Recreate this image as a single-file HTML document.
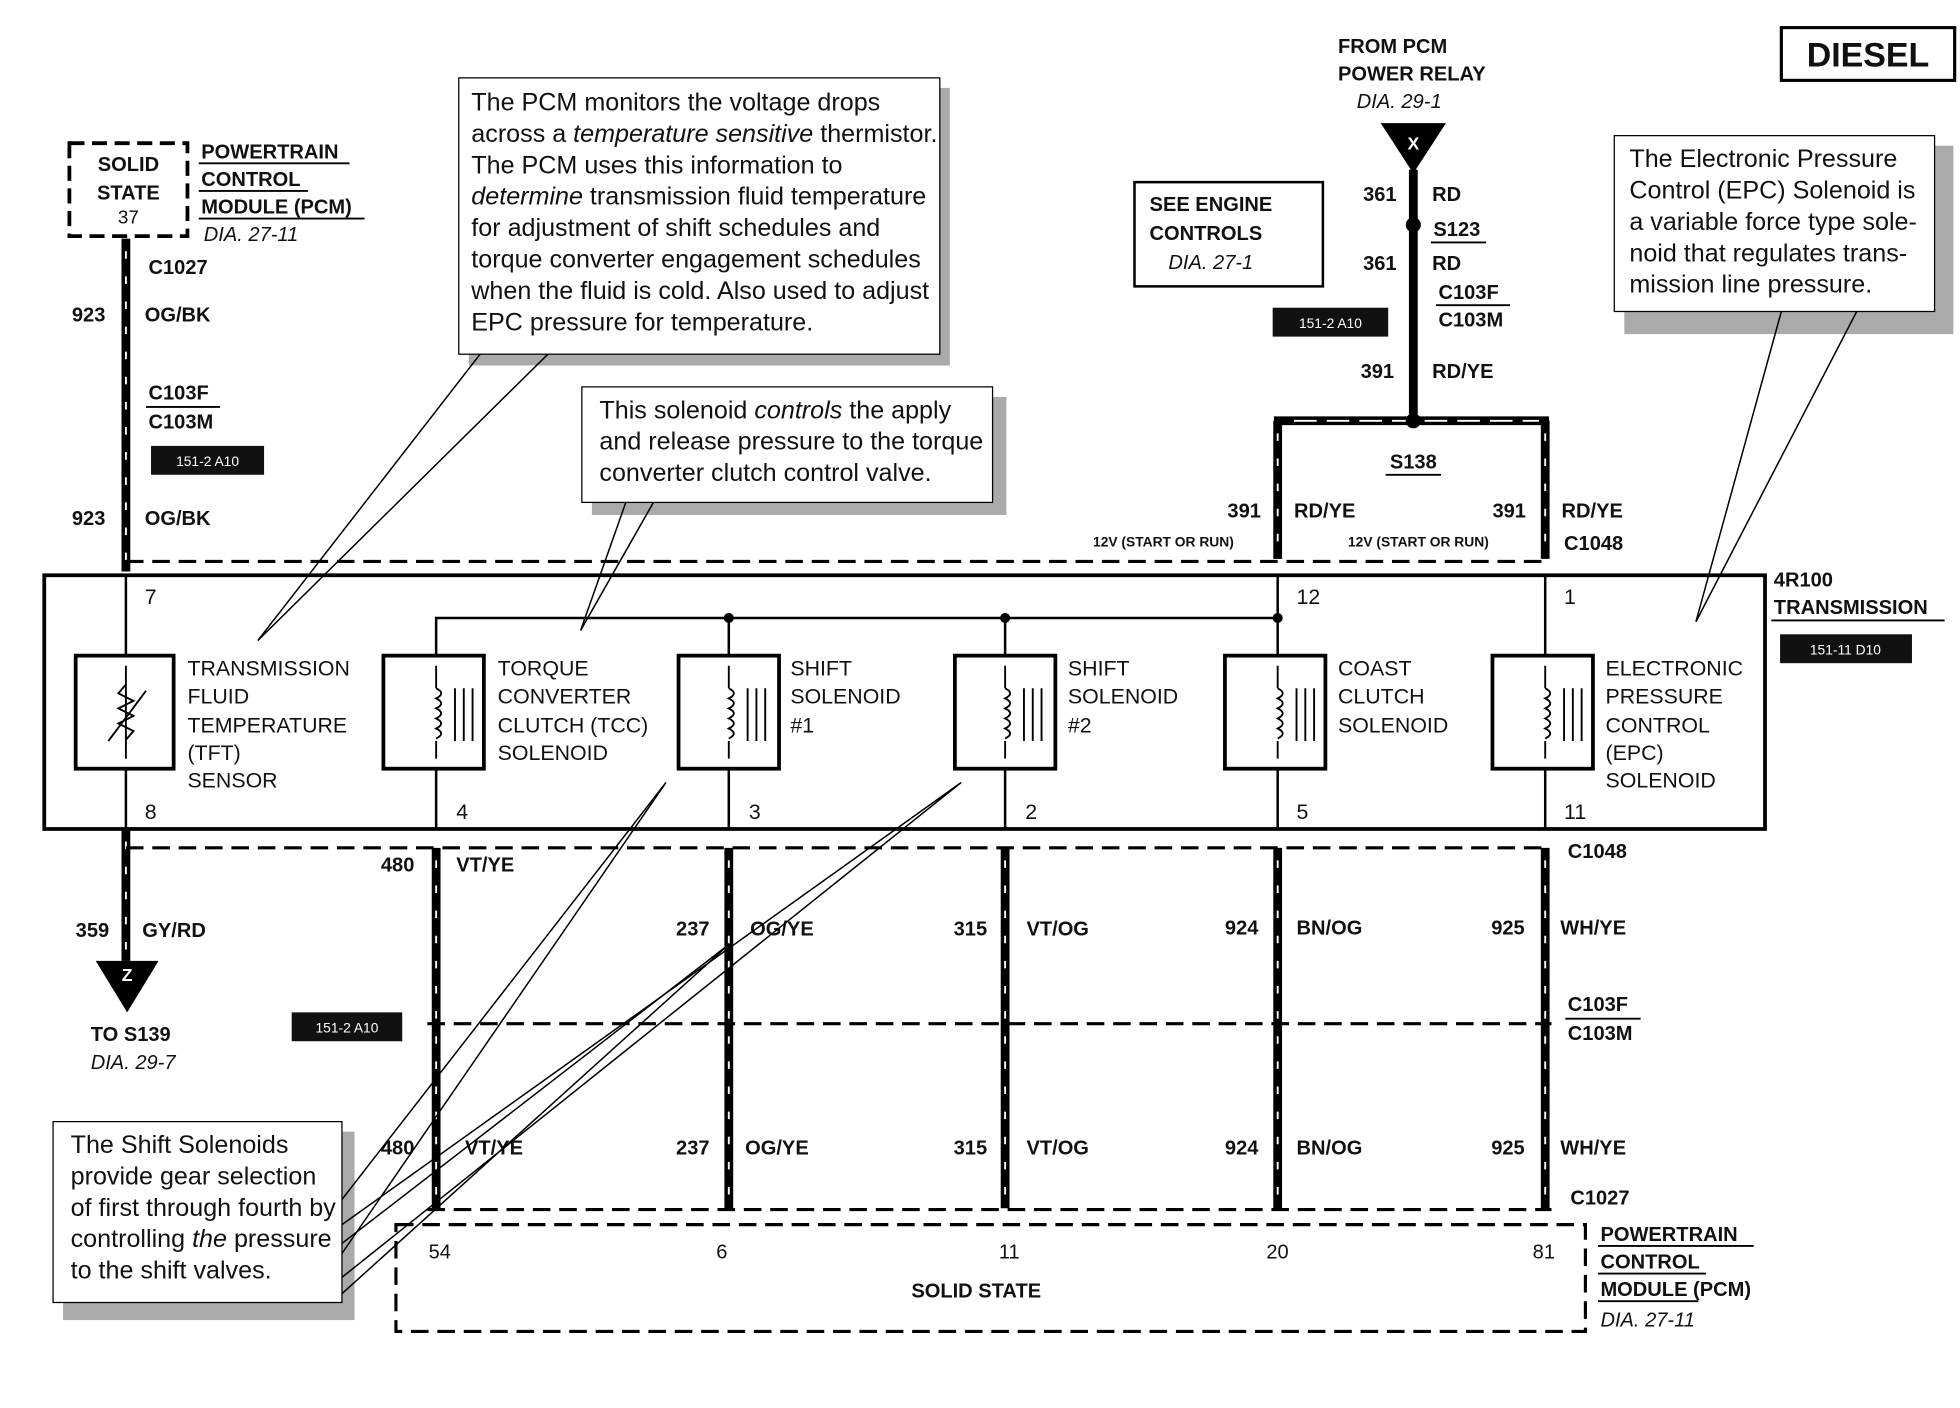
<!DOCTYPE html>
<html><head><meta charset="utf-8"><style>
html,body{margin:0;padding:0;background:#fff}
svg{display:block}
text{font-family:"Liberation Sans",sans-serif;fill:#111}
.b{font-weight:bold;font-size:16px}
.n{font-size:17px}
.c{font-size:20px}
.i{font-style:italic;font-size:16px}
.s{font-size:11px;font-weight:bold}
.w{fill:#fff;font-size:11px}
</style></head><body>
<svg width="1960" height="1408" viewBox="0 0 1560 1121" xmlns="http://www.w3.org/2000/svg">
<rect width="1560" height="1121" fill="#fff"/>
<rect x="1418" y="22" width="138" height="42" fill="#fff" stroke="#000" stroke-width="2.5"/>
<text x="1487" y="53" text-anchor="middle" style="font-weight:bold;font-size:27px">DIESEL</text>

<rect x="55" y="114" width="94" height="74" fill="none" stroke="#000" stroke-width="3" stroke-dasharray="12,6"/>
<text x="102" y="136" text-anchor="middle" class="b">SOLID</text>
<text x="102" y="159" text-anchor="middle" class="b">STATE</text>
<text x="102" y="178" text-anchor="middle" class="n" style="font-size:15px">37</text>
<text x="160" y="126" class="b">POWERTRAIN</text>
<text x="160" y="148" class="b">CONTROL</text>
<text x="160" y="170" class="b">MODULE (PCM)</text>
<text x="162" y="192" class="i">DIA. 27-11</text>
<line x1="158" y1="130" x2="278" y2="130" stroke="#000" stroke-width="1.5"/>
<line x1="158" y1="152" x2="245" y2="152" stroke="#000" stroke-width="1.5"/>
<line x1="158" y1="174" x2="290" y2="174" stroke="#000" stroke-width="1.5"/>

<g stroke="#000" stroke-width="7">
<line x1="100" y1="190" x2="100" y2="455"/>
<line x1="100" y1="660" x2="100" y2="765"/>
<line x1="347" y1="675" x2="347" y2="962"/>
<line x1="580" y1="675" x2="580" y2="962"/>
<line x1="800" y1="675" x2="800" y2="962"/>
<line x1="1017" y1="675" x2="1017" y2="962"/>
<line x1="1230" y1="675" x2="1230" y2="962"/>
<line x1="1125" y1="135" x2="1125" y2="335"/>
<line x1="1017" y1="335" x2="1017" y2="445"/>
<line x1="1230" y1="335" x2="1230" y2="445"/>
<line x1="1014" y1="335" x2="1233" y2="335"/>
</g>
<g stroke="#fff" stroke-width="1.5" stroke-dasharray="6,14">
<line x1="100" y1="200" x2="100" y2="450"/>
<line x1="100" y1="670" x2="100" y2="760"/>
<line x1="347" y1="685" x2="347" y2="960"/>
<line x1="580" y1="685" x2="580" y2="960"/>
<line x1="800" y1="685" x2="800" y2="960"/>
<line x1="1017" y1="685" x2="1017" y2="960"/>
<line x1="1230" y1="685" x2="1230" y2="960"/>
<line x1="1017" y1="345" x2="1017" y2="440"/>
<line x1="1230" y1="345" x2="1230" y2="440"/>
<line x1="1030" y1="335" x2="1225" y2="335" stroke-dasharray="18,8"/>
</g>

<text x="118" y="218" class="b">C1027</text>
<text x="57" y="256" class="b">923</text><text x="115" y="256" class="b">OG/BK</text>
<text x="118" y="318" class="b">C103F</text>
<text x="118" y="341" class="b">C103M</text>
<line x1="116" y1="324" x2="175" y2="324" stroke="#000" stroke-width="1.5"/>
<rect x="120" y="355" width="90" height="23" fill="#111"/><text x="165" y="371" text-anchor="middle" class="w">151-2 A10</text>
<text x="57" y="418" class="b">923</text><text x="115" y="418" class="b">OG/BK</text>

<g stroke="#000" stroke-width="2.5" stroke-dasharray="14,7" fill="none">
<line x1="100" y1="447" x2="1230" y2="447"/>
<line x1="100" y1="675" x2="1230" y2="675"/>
<line x1="340" y1="815" x2="1235" y2="815"/>
<line x1="340" y1="963" x2="1235" y2="963"/>
<rect x="315" y="975" width="947" height="85"/>
</g>

<rect x="35" y="458" width="1370" height="202" fill="none" stroke="#000" stroke-width="3"/>
<text x="1412" y="467" class="b">4R100</text>
<text x="1412" y="489" class="b">TRANSMISSION</text>
<line x1="1410" y1="494" x2="1548" y2="494" stroke="#000" stroke-width="1.5"/>
<rect x="1417" y="505" width="105" height="23" fill="#111"/><text x="1469" y="521" text-anchor="middle" class="w">151-11 D10</text>

<g stroke="#000" stroke-width="2" fill="none">
<polyline points="347,522 347,492 1017,492"/>
<line x1="580" y1="492" x2="580" y2="522"/>
<line x1="800" y1="492" x2="800" y2="522"/>
<line x1="1017" y1="457" x2="1017" y2="522"/>
<line x1="1230" y1="457" x2="1230" y2="522"/>
<line x1="100" y1="457" x2="100" y2="522"/>
<line x1="100" y1="612" x2="100" y2="660"/>
<line x1="347" y1="612" x2="347" y2="660"/>
<line x1="580" y1="612" x2="580" y2="660"/>
<line x1="800" y1="612" x2="800" y2="660"/>
<line x1="1017" y1="612" x2="1017" y2="660"/>
<line x1="1230" y1="612" x2="1230" y2="660"/>
</g>
<g fill="#000"><circle cx="580" cy="492" r="4"/><circle cx="800" cy="492" r="4"/><circle cx="1017" cy="492" r="4"/></g>

<g stroke="#000" stroke-width="3" fill="#fff">
<rect x="60" y="522" width="78" height="90"/>
<rect x="305" y="522" width="80" height="90"/>
<rect x="540" y="522" width="80" height="90"/>
<rect x="760" y="522" width="80" height="90"/>
<rect x="975" y="522" width="80" height="90"/>
<rect x="1188" y="522" width="80" height="90"/>
</g>
<g stroke="#000" stroke-width="1.5" fill="none">
<line x1="100" y1="530" x2="100" y2="604"/>
<polyline points="100,545 94,552 106,558 94,564 106,570 94,576 106,582 100,589"/>
<line x1="86" y1="590" x2="116" y2="550"/>
<path d="M347 530 V548 M347 590 V604 M347 548 q8 4 0 8 q8 4 0 8 q8 4 0 8 q8 4 0 8 q8 4 0 8 M362 548 V590 M369 548 V590 M376 548 V590"/>
<path d="M580 530 V548 M580 590 V604 M580 548 q8 4 0 8 q8 4 0 8 q8 4 0 8 q8 4 0 8 q8 4 0 8 M595 548 V590 M602 548 V590 M609 548 V590"/>
<path d="M800 530 V548 M800 590 V604 M800 548 q8 4 0 8 q8 4 0 8 q8 4 0 8 q8 4 0 8 q8 4 0 8 M815 548 V590 M822 548 V590 M829 548 V590"/>
<path d="M1017 530 V548 M1017 590 V604 M1017 548 q8 4 0 8 q8 4 0 8 q8 4 0 8 q8 4 0 8 q8 4 0 8 M1032 548 V590 M1039 548 V590 M1046 548 V590"/>
<path d="M1230 530 V548 M1230 590 V604 M1230 548 q8 4 0 8 q8 4 0 8 q8 4 0 8 q8 4 0 8 q8 4 0 8 M1245 548 V590 M1252 548 V590 M1259 548 V590"/>
</g>
<g>
<text x="149" y="538" class="n">TRANSMISSION</text><text x="149" y="560" class="n">FLUID</text><text x="149" y="583" class="n">TEMPERATURE</text><text x="149" y="605" class="n">(TFT)</text><text x="149" y="627" class="n">SENSOR</text>
<text x="396" y="538" class="n">TORQUE</text><text x="396" y="560" class="n">CONVERTER</text><text x="396" y="583" class="n">CLUTCH (TCC)</text><text x="396" y="605" class="n">SOLENOID</text>
<text x="629" y="538" class="n">SHIFT</text><text x="629" y="560" class="n">SOLENOID</text><text x="629" y="583" class="n">#1</text>
<text x="850" y="538" class="n">SHIFT</text><text x="850" y="560" class="n">SOLENOID</text><text x="850" y="583" class="n">#2</text>
<text x="1065" y="538" class="n">COAST</text><text x="1065" y="560" class="n">CLUTCH</text><text x="1065" y="583" class="n">SOLENOID</text>
<text x="1278" y="538" class="n">ELECTRONIC</text><text x="1278" y="560" class="n">PRESSURE</text><text x="1278" y="583" class="n">CONTROL</text><text x="1278" y="605" class="n">(EPC)</text><text x="1278" y="627" class="n">SOLENOID</text>
</g>
<g>
<text x="115" y="481" class="n">7</text><text x="1032" y="481" class="n">12</text><text x="1245" y="481" class="n">1</text>
<text x="115" y="652" class="n">8</text><text x="363" y="652" class="n">4</text><text x="596" y="652" class="n">3</text><text x="816" y="652" class="n">2</text><text x="1032" y="652" class="n">5</text><text x="1245" y="652" class="n">11</text>
</g>

<text x="303" y="694" class="b">480</text><text x="363" y="694" class="b">VT/YE</text>
<text x="1248" y="683" class="b">C1048</text>
<text x="60" y="746" class="b">359</text><text x="113" y="746" class="b">GY/RD</text>
<text x="538" y="745" class="b">237</text><text x="597" y="745" class="b">OG/YE</text>
<text x="759" y="745" class="b">315</text><text x="817" y="745" class="b">VT/OG</text>
<text x="975" y="744" class="b">924</text><text x="1032" y="744" class="b">BN/OG</text>
<text x="1187" y="744" class="b">925</text><text x="1242" y="744" class="b">WH/YE</text>
<text x="1248" y="805" class="b">C103F</text><text x="1248" y="828" class="b">C103M</text>
<line x1="1246" y1="811" x2="1306" y2="811" stroke="#000" stroke-width="1.5"/>
<rect x="232" y="806" width="88" height="23" fill="#111"/><text x="276" y="822" text-anchor="middle" class="w">151-2 A10</text>
<text x="303" y="919" class="b">480</text><text x="370" y="919" class="b">VT/YE</text>
<text x="538" y="919" class="b">237</text><text x="593" y="919" class="b">OG/YE</text>
<text x="759" y="919" class="b">315</text><text x="817" y="919" class="b">VT/OG</text>
<text x="975" y="919" class="b">924</text><text x="1032" y="919" class="b">BN/OG</text>
<text x="1187" y="919" class="b">925</text><text x="1242" y="919" class="b">WH/YE</text>
<text x="1250" y="959" class="b">C1027</text>

<polygon points="76,765 126,765 101,806" fill="#000"/>
<text x="101" y="781" text-anchor="middle" style="fill:#fff;font-weight:bold;font-size:14px">Z</text>
<text x="72" y="829" class="b">TO S139</text>
<text x="72" y="851" class="i">DIA. 29-7</text>

<text x="341" y="1002" class="n" style="font-size:16px">54</text>
<text x="570" y="1002" class="n" style="font-size:16px">6</text>
<text x="795" y="1002" class="n" style="font-size:16px">11</text>
<text x="1008" y="1002" class="n" style="font-size:16px">20</text>
<text x="1220" y="1002" class="n" style="font-size:16px">81</text>
<text x="777" y="1033" text-anchor="middle" class="b">SOLID STATE</text>
<text x="1274" y="988" class="b">POWERTRAIN</text>
<text x="1274" y="1010" class="b">CONTROL</text>
<text x="1274" y="1032" class="b">MODULE (PCM)</text>
<text x="1274" y="1056" class="i">DIA. 27-11</text>
<line x1="1272" y1="992" x2="1396" y2="992" stroke="#000" stroke-width="1.5"/>
<line x1="1272" y1="1014" x2="1358" y2="1014" stroke="#000" stroke-width="1.5"/>
<line x1="1272" y1="1036" x2="1352" y2="1036" stroke="#000" stroke-width="1.5"/>

<text x="1065" y="42" class="b">FROM PCM</text>
<text x="1065" y="64" class="b">POWER RELAY</text>
<text x="1080" y="86" class="i">DIA. 29-1</text>
<polygon points="1099,98 1151,98 1125,138" fill="#000"/>
<text x="1125" y="119" text-anchor="middle" style="fill:#fff;font-weight:bold;font-size:14px">X</text>
<text x="1085" y="160" class="b">361</text><text x="1140" y="160" class="b">RD</text>
<circle cx="1125" cy="179" r="6" fill="#000"/>
<text x="1141" y="188" class="b">S123</text>
<line x1="1139" y1="193" x2="1183" y2="193" stroke="#000" stroke-width="1.5"/>
<text x="1085" y="215" class="b">361</text><text x="1140" y="215" class="b">RD</text>
<text x="1145" y="238" class="b">C103F</text><text x="1145" y="260" class="b">C103M</text>
<line x1="1143" y1="243" x2="1202" y2="243" stroke="#000" stroke-width="1.5"/>
<rect x="1013" y="245" width="92" height="23" fill="#111"/><text x="1059" y="261" text-anchor="middle" class="w">151-2 A10</text>
<text x="1083" y="301" class="b">391</text><text x="1140" y="301" class="b">RD/YE</text>
<circle cx="1125" cy="335" r="6" fill="#000"/>
<text x="1125" y="373" text-anchor="middle" class="b">S138</text>
<line x1="1103" y1="378" x2="1147" y2="378" stroke="#000" stroke-width="1.5"/>
<text x="977" y="412" class="b">391</text><text x="1030" y="412" class="b">RD/YE</text>
<text x="1188" y="412" class="b">391</text><text x="1243" y="412" class="b">RD/YE</text>
<text x="870" y="435" class="s">12V (START OR RUN)</text>
<text x="1073" y="435" class="s">12V (START OR RUN)</text>
<text x="1245" y="438" class="b">C1048</text>
<rect x="903" y="145" width="150" height="83" fill="#fff" stroke="#000" stroke-width="2"/>
<text x="915" y="168" class="b">SEE ENGINE</text>
<text x="915" y="191" class="b">CONTROLS</text>
<text x="930" y="214" class="i">DIA. 27-1</text>

<g fill="#aaa">
<rect x="373" y="70" width="383" height="221"/>
<rect x="471" y="316" width="330" height="94"/>
<rect x="1293" y="116" width="262" height="150"/>
<rect x="50" y="901" width="232" height="150"/>
</g>
<g stroke="#000" stroke-width="1.2" fill="none">
<polyline points="382,282 205,510 436,282"/>
<polyline points="498,400 462,502 520,400"/>
<polyline points="1418,248 1350,495 1478,248"/>
<polyline points="272,955 530,623 272,998"/>
<polyline points="272,975 765,623 272,1017"/>
<polyline points="272,990 580,752 272,1030"/>
</g>
<g fill="#fff" stroke="#000" stroke-width="1">
<rect x="365" y="62" width="383" height="220"/>
<rect x="463" y="308" width="327" height="92"/>
<rect x="1285" y="108" width="255" height="140"/>
<rect x="42" y="893" width="230" height="144"/>
</g>
<g>
<text x="375" y="88" class="c">The PCM monitors the voltage drops</text>
<text x="375" y="113" class="c">across a <tspan font-style="italic">temperature sensitive</tspan> thermistor.</text>
<text x="375" y="138" class="c">The PCM uses this information to</text>
<text x="375" y="163" class="c"><tspan font-style="italic">determine</tspan> transmission fluid temperature</text>
<text x="375" y="188" class="c">for adjustment of shift schedules and</text>
<text x="375" y="213" class="c">torque converter engagement schedules</text>
<text x="375" y="238" class="c">when the fluid is cold. Also used to adjust</text>
<text x="375" y="263" class="c">EPC pressure for temperature.</text>
<text x="477" y="333" class="c">This solenoid <tspan font-style="italic">controls</tspan> the apply</text>
<text x="477" y="358" class="c">and release pressure to the torque</text>
<text x="477" y="383" class="c">converter clutch control valve.</text>
<text x="1297" y="133" class="c">The Electronic Pressure</text>
<text x="1297" y="158" class="c">Control (EPC) Solenoid is</text>
<text x="1297" y="183" class="c">a variable force type sole-</text>
<text x="1297" y="208" class="c">noid that regulates trans-</text>
<text x="1297" y="233" class="c">mission line pressure.</text>
<text x="56" y="918" class="c">The Shift  Solenoids</text>
<text x="56" y="943" class="c">provide gear selection</text>
<text x="56" y="968" class="c">of first through fourth by</text>
<text x="56" y="993" class="c">controlling <tspan font-style="italic">the</tspan> pressure</text>
<text x="56" y="1018" class="c">to the shift valves.</text>
</g>
</svg>
</body></html>
